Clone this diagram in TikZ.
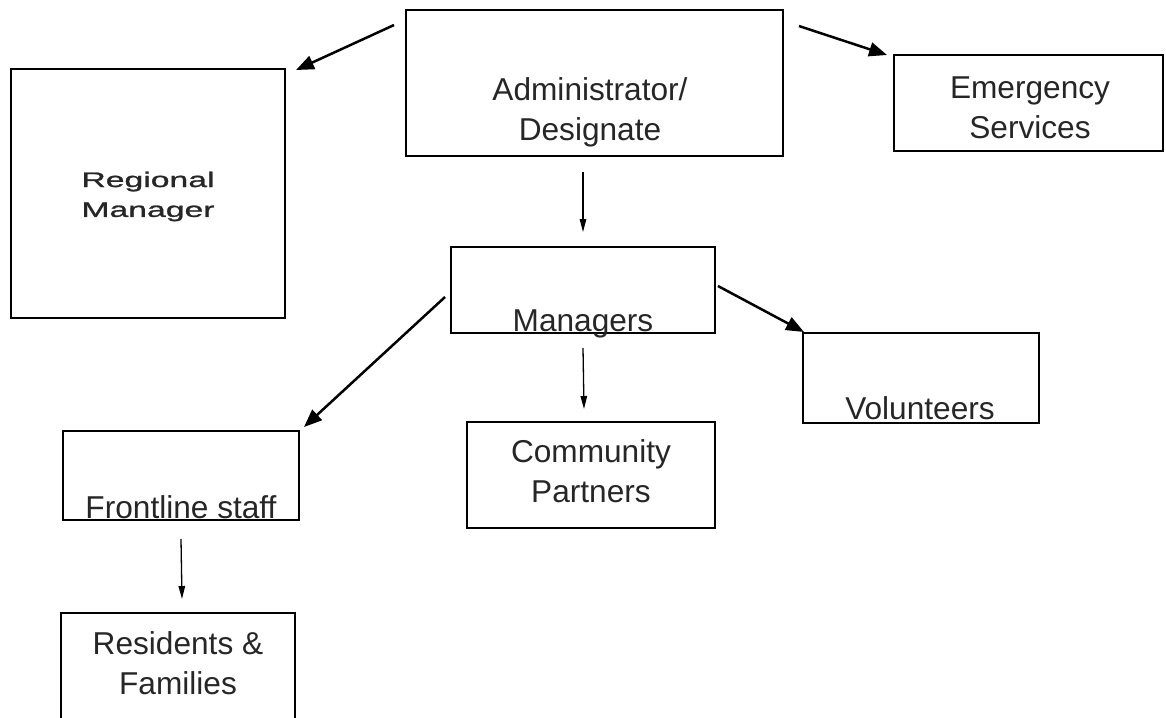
\documentclass[tikz,border=0pt]{standalone}
\usepackage{fontspec}
\setmainfont{Liberation Sans}
\newfontfamily\widefont[FakeStretch=1.6,FakeBold=1.2]{Liberation Sans}
\usetikzlibrary{arrows.meta,calc}

\begin{document}
\begin{tikzpicture}[x=0.02cm, y=-0.02cm,
  box/.style={draw, line width=0.04cm, inner sep=0pt},
  lbl/.style={inner sep=0pt, align=center, text=black!85, font=\fontsize{18}{22.8}\selectfont},
  bigarrow/.style={line width=0.05cm, -{Triangle[length=0.36cm,width=0.28cm]}},
  smallarrow/.style={line width=0.026cm, -{Triangle[length=0.26cm,width=0.13cm]}}]
  \useasboundingbox (0,0) rectangle (1166,717);
  \clip (0,0) rectangle (1166,717);
  % boxes
  \node[box, minimum width=7.54cm, minimum height=2.92cm] (admin) at (594.5,83) {};
  \node[box, minimum width=5.48cm, minimum height=4.98cm] (regional) at (148,193.5) {};
  \node[box, minimum width=5.38cm, minimum height=1.92cm] (emergency) at (1028.5,103) {};
  \node[box, minimum width=5.28cm, minimum height=1.72cm] (managers) at (583,290) {};
  \node[box, minimum width=4.72cm, minimum height=1.80cm] (volunteers) at (921,378) {};
  \node[box, minimum width=4.96cm, minimum height=2.12cm] (community) at (591,475) {};
  \node[box, minimum width=4.72cm, minimum height=1.78cm] (frontline) at (181,475.5) {};
  \node[box, minimum width=4.68cm, minimum height=2.40cm] (residents) at (178,673) {};
  % labels
  \node[lbl] (adminlbl) at (590,112.5) {Administrator/\\Designate};
  \node[lbl, font=\widefont\fontsize{12}{17}\selectfont] (regionallbl) at (148,196.5) {Regional\\Manager};
  \node[lbl] (emergencylbl) at (1030,107.5) {Emergency\\Services};
  \node[lbl, anchor=base] (managerslbl) at (583,331) {Managers};
  \node[lbl, anchor=base] (volunteerslbl) at (920,419) {Volunteers};
  \node[lbl] (communitylbl) at (591,471) {Community\\Partners};
  \node[lbl, anchor=base] (frontlinelbl) at (181,518) {Frontline staff};
  \node[lbl] (residentslbl) at (178,663) {Residents \&\\Families};
  % arrows
  \draw[bigarrow] ($(admin.north west)+(-11,16)$) -- ($(regional.north east)+(10,2)$);
  \draw[bigarrow] ($(admin.north east)+(15,17)$) -- ($(emergency.north west)+(-6,1)$);
  \draw[smallarrow] ($(admin.south)+(-11.5,15)$) -- ($(managers.north)+(0,-14)$);
  \draw[bigarrow] ($(managers.west)+(-5,7)$) -- ($(frontline.north east)+(4,-3)$);
  \draw[smallarrow] ($(managers.south)+(0,14)$) -- ($(community.north)+(-7,-12)$);
  \draw[bigarrow] ($(managers.east)+(2,-4)$) -- ($(volunteers.north west)+(2,0)$);
  \draw[smallarrow] ($(frontline.south)+(0,18)$) -- ($(residents.north)+(4,-13)$);
\end{tikzpicture}
\end{document}
